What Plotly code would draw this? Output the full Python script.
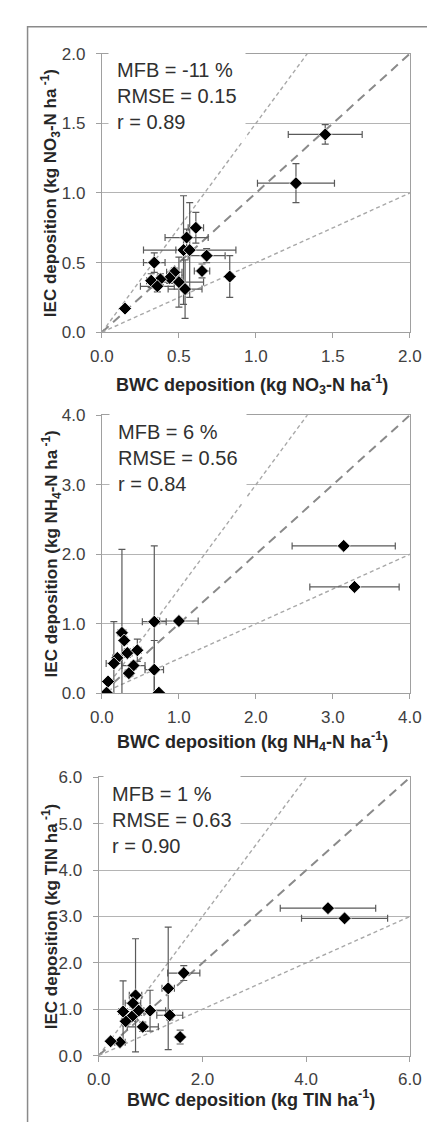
import plotly.graph_objects as go

# ---------------- data ----------------
# Panel 1: NO3-N
no3_bwc = [1.45, 1.26, 0.61, 0.55, 0.53, 0.57, 0.68, 0.34, 0.65, 0.47, 0.44, 0.38, 0.32, 0.50, 0.36, 0.54, 0.83, 0.15]
no3_iec = [1.42, 1.07, 0.75, 0.68, 0.59, 0.59, 0.55, 0.50, 0.44, 0.43, 0.39, 0.38, 0.37, 0.36, 0.33, 0.31, 0.40, 0.17]
no3_bwc_err = [0.24, 0.25, 0.05, 0.14, 0.05, 0.30, 0.12, 0.07, 0.05, 0.05, 0.08, 0.05, 0.03, 0.16, 0.11, 0.11, 0.02, 0.01]
no3_iec_err = [0.07, 0.14, 0.11, 0.06, 0.39, 0.34, 0.05, 0.07, 0.05, 0.03, 0.04, 0.04, 0.05, 0.18, 0.04, 0.21, 0.15, 0.01]

# Panel 2: NH4-N
nh4_bwc = [3.14, 3.28, 1.00, 0.68, 0.26, 0.29, 0.33, 0.46, 0.20, 0.155, 0.41, 0.35, 0.68, 0.08, 0.06, 0.74]
nh4_iec = [2.12, 1.53, 1.04, 1.03, 0.87, 0.76, 0.58, 0.62, 0.51, 0.43, 0.40, 0.29, 0.34, 0.17, 0.01, 0.01]
nh4_bwc_err = [0.67, 0.58, 0.25, 0.155, 0.05, 0.03, 0.06, 0.05, 0.06, 0.10, 0.15, 0.05, 0.12, 0.02, 0.01, 0.01]
nh4_iec_err = [0.02, 0.02, 0.02, 1.09, 1.20, 0.05, 0.06, 0.16, 0.05, 0.60, 0.05, 0.05, 0.42, 0.02, 0.00, 0.00]

# Panel 3: TIN
tin_bwc = [4.42, 4.74, 1.64, 1.34, 1.37, 1.57, 0.99, 0.85, 0.77, 0.71, 0.66, 0.64, 0.52, 0.47, 0.41, 0.23]
tin_iec = [3.18, 2.96, 1.78, 1.45, 0.87, 0.40, 0.97, 0.62, 0.97, 1.30, 1.13, 0.84, 0.74, 0.95, 0.29, 0.31]
tin_bwc_err = [0.92, 0.83, 0.31, 0.12, 0.25, 0.03, 0.30, 0.30, 0.10, 0.12, 0.15, 0.10, 0.08, 0.08, 0.10, 0.03]
tin_iec_err = [0.02, 0.02, 0.16, 1.32, 0.10, 0.15, 0.44, 0.10, 0.10, 1.22, 0.08, 0.10, 0.10, 0.66, 0.03, 0.03]

stats_text = [
    "MFB = -11 %<br>RMSE = 0.15<br>r = 0.89",
    "MFB = 6 %<br>RMSE = 0.56<br>r = 0.84",
    "MFB = 1 %<br>RMSE = 0.63<br>r = 0.90",
]
x_titles = [
    "BWC deposition (kg NO<sub>3</sub>-N ha<sup>-1</sup>)",
    "BWC deposition (kg NH<sub>4</sub>-N ha<sup>-1</sup>)",
    "BWC deposition (kg TIN ha<sup>-1</sup>)",
]
y_titles = [
    "IEC deposition (kg NO<sub>3</sub>-N ha<sup> -1</sup>)",
    "IEC deposition (kg NH<sub>4</sub>-N ha<sup> -1</sup>)",
    "IEC deposition (kg TIN ha<sup> -1</sup>)",
]
axis_max = [2.0, 4.0, 6.0]
x_dtick = [0.5, 1.0, 2.0]
y_dtick = [0.5, 1.0, 1.0]
ref_slopes = [1.5, 1.0, 0.5]

panels = [
    (no3_bwc, no3_iec, no3_bwc_err, no3_iec_err),
    (nh4_bwc, nh4_iec, nh4_bwc_err, nh4_iec_err),
    (tin_bwc, tin_iec, tin_bwc_err, tin_iec_err),
]

# ---------------- layout geometry (pixels) ----------------
W, H = 435, 1122
plot_px = [  # left, right, top, bottom
    (86.7, 412.7, 37.3, 320.7),
    (86.7, 412.7, 405.0, 688.0),
    (83.3, 412.7, 773.5, 1056.5),
]
xtitle_y = [373.5, 737.0, 1100.0]
ytitle_x = [33.0, 33.0, 31.5]
stat_left = [93.0, 94.5, 88.0]
stat_mid = [80.5, 448.5, 817.0]

FONT = "Liberation Sans, Arial, sans-serif"
AXIS_COL = "#a0a0a0"
GRID_COL = "#b4b4b4"

fig = go.Figure()
layout_axes = {}
annotations = []

for i, (bx, iy, bxe, iye) in enumerate(panels):
    n = "" if i == 0 else str(i + 1)
    xa, ya = "x" + n, "y" + n
    m = axis_max[i]
    # reference lines (1.5:1, 1:1, 0.5:1)
    for s in ref_slopes:
        if s == 1.0:
            ln = dict(color="#8a8a8a", width=2, dash="9px,6px")
        else:
            ln = dict(color="#a8a8a8", width=1.4, dash="4px,3px")
        fig.add_trace(go.Scatter(x=[0, m], y=[0, s * m], mode="lines", line=ln,
                                 xaxis=xa, yaxis=ya, showlegend=False, hoverinfo="skip"))
    fig.add_trace(go.Scatter(
        x=bx, y=iy, mode="markers", xaxis=xa, yaxis=ya, showlegend=False,
        marker=dict(symbol="diamond", size=10, color="black", line=dict(color="white", width=0.8)),
        error_x=dict(type="data", array=bxe, visible=True, color="#5a5a5a", thickness=1.2, width=3.5),
        error_y=dict(type="data", array=iye, visible=True, color="#5a5a5a", thickness=1.2, width=3.5),
    ))

    l, r, t, b = plot_px[i]
    xdom = [l / W, r / W]
    ydom = [1 - b / H, 1 - t / H]
    common = dict(
        range=[0, m], showline=True, mirror=True, linecolor=AXIS_COL, linewidth=1.3,
        ticks="outside", ticklen=5, tickcolor=AXIS_COL, zeroline=False,
        tickformat=".1f", tick0=0,
        tickfont=dict(family=FONT, size=17, color="#404040"),
    )
    layout_axes["xaxis" + n] = dict(common, domain=xdom, anchor=ya, dtick=x_dtick[i],
                                    showgrid=False, ticklabelstandoff=3)
    layout_axes["yaxis" + n] = dict(common, domain=ydom, anchor=xa, dtick=y_dtick[i],
                                    showgrid=True, gridcolor=GRID_COL, gridwidth=1.2,
                                    ticklabelstandoff=7)

    annotations.append(dict(
        text=stats_text[i], xref="paper", yref="paper", x=stat_left[i] / W, y=1 - stat_mid[i] / H,
        xanchor="left", yanchor="middle", align="left", showarrow=False,
        bgcolor="white", borderpad=8,
        font=dict(family=FONT, size=20, color="#303030"),
    ))
    annotations.append(dict(
        text="<b>" + x_titles[i] + "</b>", xref="paper", yref="paper",
        x=((l + r) / 2 - 4) / W, y=1 - xtitle_y[i] / H, xanchor="center", yanchor="middle",
        showarrow=False, font=dict(family=FONT, size=18, color="#262626"),
    ))
    annotations.append(dict(
        text="<b>" + y_titles[i] + "</b>", xref="paper", yref="paper",
        x=ytitle_x[i] / W, y=1 - ((t + b) / 2) / H, xanchor="center", yanchor="middle",
        textangle=-90, showarrow=False, font=dict(family=FONT, size=17, color="#262626"),
    ))

fig.update_layout(
    width=W, height=H, autosize=False,
    margin=dict(l=0, r=0, t=0, b=0),
    paper_bgcolor="white", plot_bgcolor="white",
    showlegend=False,
    annotations=annotations,
    shapes=[dict(type="rect", xref="paper", yref="paper",
                 x0=8 / W, x1=1.05, y0=-0.05, y1=1 - 10 / H,
                 line=dict(color="#8a8a8a", width=1.5), fillcolor="rgba(0,0,0,0)", layer="below")],
    **layout_axes,
)

fig.write_html("out.html")
